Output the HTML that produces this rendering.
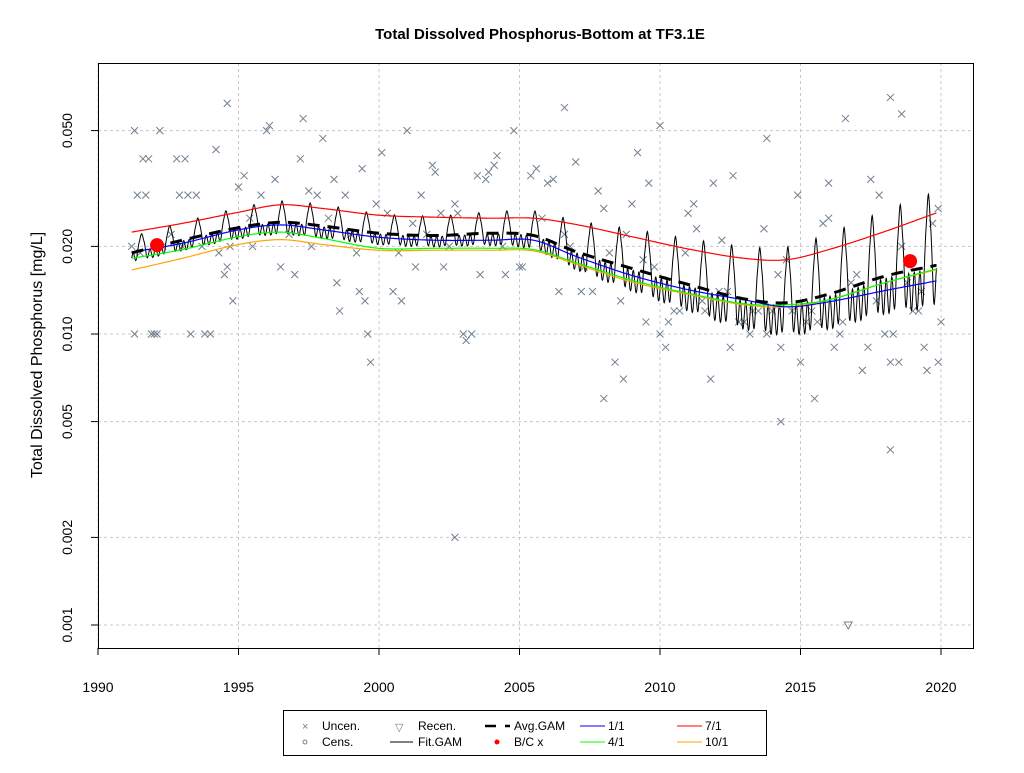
<!DOCTYPE html>
<html><head><meta charset="utf-8"><style>
body{margin:0;background:#fff;font-family:"Liberation Sans",sans-serif}
</style></head><body>
<svg id="c" width="1024" height="768" xmlns="http://www.w3.org/2000/svg" font-family="Liberation Sans, sans-serif">
<text x="540" y="39" text-anchor="middle" font-size="15" font-weight="bold">Total Dissolved Phosphorus-Bottom at TF3.1E</text>
<text transform="translate(42,355) rotate(-90)" text-anchor="middle" font-size="16">Total Dissolved Phosphorus [mg/L]</text>
<g id="grid"></g><g id="axes"></g><g id="pts"></g><g id="lines"></g>
<g font-size="12">
<rect x="283.5" y="710.5" width="483" height="45" fill="#fff" stroke="#000"/>
<text x="302" y="730" fill="#708090" font-size="11">×</text><text x="322" y="730">Uncen.</text>
<circle cx="305" cy="742" r="2" fill="none" stroke="#708090"/><text x="322" y="746">Cens.</text>
<text x="395" y="731" fill="#708090" font-size="11">▽</text><text x="418" y="730">Recen.</text>
<line x1="390" y1="742" x2="413" y2="742" stroke="#000"/><text x="418" y="746">Fit.GAM</text>
<line x1="485" y1="726" x2="496" y2="726" stroke="#000" stroke-width="2.5"/><line x1="505" y1="726" x2="510" y2="726" stroke="#000" stroke-width="2.5"/><text x="514" y="730">Avg.GAM</text>
<circle cx="497" cy="742" r="2.5" fill="red"/><text x="514" y="746">B/C x</text>
<line x1="580" y1="726" x2="605" y2="726" stroke="blue"/><text x="608" y="730">1/1</text>
<line x1="580" y1="742" x2="605" y2="742" stroke="#0f0"/><text x="608" y="746">4/1</text>
<line x1="677" y1="726" x2="702" y2="726" stroke="red"/><text x="705" y="730">7/1</text>
<line x1="677" y1="742" x2="702" y2="742" stroke="orange"/><text x="705" y="746">10/1</text>
</g>
</svg>
<script>
const xTicks=[1990,1995,2000,2005,2010,2015,2020];
const yTicks=[0.001,0.002,0.005,0.010,0.020,0.050];
const yTickLabels=["0.001","0.002","0.005","0.010","0.020","0.050"];
const knotYears=[1991.2,1993,1995,1996.5,1998,2000,2002,2004,2005.5,2007,2009,2011,2013,2014.5,2016,2018,2019.8];
const avgGam=[0.019,0.021,0.0232,0.0242,0.0235,0.0222,0.0218,0.0222,0.0218,0.0192,0.0168,0.0148,0.0132,0.0128,0.0137,0.0158,0.0172];
const line11=[0.0191,0.0205,0.0228,0.0237,0.0228,0.0215,0.021,0.021,0.021,0.0185,0.0159,0.0142,0.0131,0.0124,0.0129,0.0141,0.0152];
const line41=[0.0182,0.0195,0.0216,0.0224,0.0213,0.0197,0.0197,0.0197,0.0195,0.0176,0.0153,0.0138,0.0127,0.0126,0.0131,0.0150,0.0167];
const line71=[0.0224,0.024,0.0262,0.0278,0.027,0.0256,0.0252,0.025,0.025,0.0238,0.0216,0.0196,0.0182,0.0180,0.0195,0.0225,0.026];
const line101=[0.0166,0.0182,0.0203,0.0211,0.0203,0.0194,0.0194,0.0194,0.0193,0.0174,0.0151,0.0137,0.0126,0.0124,0.0131,0.0150,0.0166];
const seasonalAmp=[0.10,0.11,0.12,0.13,0.13,0.12,0.12,0.13,0.15,0.19,0.24,0.28,0.32,0.34,0.37,0.40,0.45];
const bcYears=[1992.1,2018.9];
const bcVals=[0.0202,0.0178];
const ptYears=[1991.2,1991.3,1991.3,1991.4,1991.5,1991.6,1991.7,1991.8,1991.9,1992.0,1992.1,1992.2,1992.3,1992.6,1992.8,1992.9,1993.0,1993.1,1993.2,1993.3,1993.5,1993.7,1993.8,1994.0,1994.2,1994.3,1994.5,1994.6,1994.7,1994.8,1995.0,1995.2,1995.4,1995.5,1995.8,1996.0,1996.1,1996.3,1996.5,1996.8,1997.0,1997.2,1997.3,1997.5,1997.6,1997.8,1998.0,1998.2,1998.4,1998.5,1998.6,1998.8,1999.0,1999.2,1999.3,1999.4,1999.5,1999.6,1999.7,1999.9,2000.1,2000.3,2000.5,2000.7,2000.8,2001.0,2001.2,2001.3,2001.5,2001.7,2001.9,2002.0,2002.2,2002.3,2002.5,2002.7,2002.8,2003.0,2003.1,2003.3,2003.5,2003.6,2003.8,2003.9,2004.1,2004.2,2004.4,2004.5,2002.7,2004.8,2005.0,2005.1,2005.4,2005.6,2005.8,2006.0,2006.2,2006.4,2006.6,2006.8,2007.0,2007.2,2007.3,2007.6,2007.8,2008.0,2008.2,2008.4,2008.6,2008.8,2009.0,2009.2,2009.4,2009.6,2009.8,2010.0,2010.2,2010.3,2010.5,2010.7,2010.9,2011.0,2011.2,2011.3,2011.5,2011.6,2011.8,2011.9,2012.1,2012.2,2012.4,2012.6,2012.8,2013.0,2013.2,2013.3,2013.5,2013.7,2013.8,2014.0,2014.2,2014.3,2014.5,2014.7,2014.9,2015.0,2015.2,2015.4,2015.6,2015.8,2016.0,2016.2,2016.4,2016.5,2016.8,2017.0,2017.2,2017.4,2017.5,2017.7,2018.0,2018.2,2018.3,2018.5,2018.6,2018.8,2019.0,2019.2,2019.3,2019.5,2019.7,2019.9,2020.0,2006.6,2008.0,2014.3,2015.5,2018.2,2016.6,2018.2,2018.6,2010.0,2013.8,1994.6,2008.7,2009.5,2012.5,2016.0,2017.8,2019.9,2019.4];
const ptVals=[0.020,0.050,0.010,0.030,0.019,0.040,0.030,0.040,0.010,0.010,0.010,0.050,0.020,0.022,0.040,0.030,0.020,0.040,0.030,0.010,0.030,0.020,0.010,0.010,0.043,0.019,0.016,0.017,0.020,0.013,0.032,0.035,0.025,0.020,0.030,0.050,0.052,0.034,0.017,0.022,0.016,0.040,0.055,0.031,0.020,0.030,0.047,0.025,0.034,0.015,0.012,0.030,0.022,0.019,0.014,0.037,0.013,0.010,0.008,0.028,0.042,0.026,0.014,0.019,0.013,0.050,0.024,0.017,0.030,0.022,0.038,0.036,0.026,0.017,0.020,0.028,0.026,0.010,0.0095,0.010,0.035,0.016,0.034,0.036,0.038,0.041,0.020,0.016,0.0020,0.050,0.017,0.017,0.035,0.037,0.025,0.033,0.034,0.014,0.022,0.020,0.039,0.014,0.017,0.014,0.031,0.027,0.019,0.008,0.013,0.022,0.028,0.042,0.018,0.033,0.017,0.010,0.009,0.011,0.012,0.012,0.019,0.026,0.028,0.023,0.013,0.012,0.007,0.033,0.014,0.021,0.014,0.035,0.011,0.011,0.010,0.012,0.012,0.023,0.010,0.012,0.016,0.009,0.018,0.012,0.030,0.008,0.011,0.012,0.011,0.024,0.033,0.009,0.010,0.011,0.015,0.016,0.0075,0.009,0.034,0.013,0.010,0.008,0.010,0.008,0.020,0.015,0.012,0.012,0.014,0.0075,0.024,0.027,0.011,0.060,0.006,0.005,0.006,0.004,0.055,0.065,0.057,0.052,0.047,0.062,0.007,0.011,0.009,0.025,0.030,0.008,0.009];
const recYears=[2016.7];
const recVals=[0.001];

const NS="http://www.w3.org/2000/svg";
const X0=98,X1=973,Y0=63,Y1=648;
function sx(t){return 98+(t-1990)*28.1;}
function sy(v){return 334-Math.log10(v/0.01)*291;}
function mk(tag,attrs,parent){const e=document.createElementNS(NS,tag);for(const k in attrs)e.setAttribute(k,attrs[k]);document.getElementById(parent).appendChild(e);return e;}
function interp(arr,t){
  const n=knotYears.length;
  if(t<=knotYears[0])return arr[0];
  if(t>=knotYears[n-1])return arr[n-1];
  const L=arr.map(Math.log);
  let i=0;while(t>knotYears[i+1])i++;
  const h=knotYears[i+1]-knotYears[i],f=(t-knotYears[i])/h;
  const m=j=>{const a=Math.max(0,j-1),b=Math.min(n-1,j+1);return (L[b]-L[a])/(knotYears[b]-knotYears[a])*h;};
  const f2=f*f,f3=f2*f;
  const v=(2*f3-3*f2+1)*L[i]+(f3-2*f2+f)*m(i)+(-2*f3+3*f2)*L[i+1]+(f3-f2)*m(i+1);
  return Math.exp(v);
}
xTicks.forEach(t=>{
  const g=mk('line',{x1:sx(t),x2:sx(t),y1:Y0,y2:Y1,stroke:'#c8c8c8','stroke-dasharray':'3,3'},'grid');
  
  
  const tk=mk('line',{x1:sx(t),x2:sx(t),y1:Y1,y2:Y1+7,stroke:'#000'},'axes');
  
  
  const l=mk('text',{x:sx(t),y:692,'text-anchor':'middle','font-size':'14'},'axes');l.textContent=t;
  
  
});
yTicks.forEach((v,i)=>{
  const g=mk('line',{x1:X0,x2:X1,y1:sy(v),y2:sy(v),stroke:'#c8c8c8','stroke-dasharray':'3,3'},'grid');
  
  
  const tk=mk('line',{x1:X0-7,x2:X0,y1:sy(v),y2:sy(v),stroke:'#000'},'axes');
  
  
  const l=mk('text',{transform:`translate(72,${sy(v)}) rotate(-90)`,'text-anchor':'middle','font-size':'14'},'axes');l.textContent=yTickLabels[i];
  
  
});
const box=mk('rect',{x:X0+.5,y:Y0+.5,width:X1-X0,height:Y1-Y0,fill:'none',stroke:'#000'},'axes');


ptYears.forEach((t,i)=>{
  const x=sx(t),y=sy(ptVals[i]);
  const p=mk('path',{d:`M${x-3.5},${y-3.5}L${x+3.5},${y+3.5}M${x-3.5},${y+3.5}L${x+3.5},${y-3.5}`,stroke:'#708090','stroke-width':'1'},'pts');
  
  
});
recYears.forEach((t,i)=>{
  const x=sx(t),y=sy(recVals[i]);
  const p=mk('path',{d:`M${x-4},${y-3}L${x+4},${y-3}L${x},${y+4}Z`,stroke:'#708090',fill:'none'},'pts');
  
  
});
function curve(arr,color,w,dash,name){
  let d='';for(let t=1991.2;t<=2019.85;t+=0.02){d+=(d?'L':'M')+sx(t).toFixed(1)+','+sy(interp(arr,t)).toFixed(1);}
  const p=mk('path',{d:d,fill:'none',stroke:color,'stroke-width':w},'lines');
  if(dash)p.setAttribute('stroke-dasharray',dash);
  
  
}
(function(){
  let d='';
  for(let t=1991.2;t<=2019.85;t+=0.01){
    const ph=(t-Math.floor(t));
    const dist=Math.min(Math.abs(ph-0.55),1-Math.abs(ph-0.55));
    const peak=Math.exp(-dist*dist/0.012);
    const a=interp(seasonalAmp,t);
    const base=interp(avgGam,t);
    const wig=0.35*Math.sin(ph*2*Math.PI*5)*(1-peak);
    const v=base*Math.exp(a*(1.7*peak-0.4+wig));
    d+=(d?'L':'M')+sx(t).toFixed(1)+','+sy(v).toFixed(1);
  }
  const p=mk('path',{d:d,fill:'none',stroke:'#000','stroke-width':1},'lines');
  
  
})();
curve(line101,'orange',1.2,null,'line-10-1');
curve(line41,'#0f0',1.2,null,'line-4-1');
curve(line11,'blue',1.2,null,'line-1-1');
curve(line71,'red',1.2,null,'line-7-1');
curve(avgGam,'#000',3,'12,8','avg-gam-line');
bcYears.forEach((t,i)=>{
  const c=mk('circle',{cx:sx(t),cy:sy(bcVals[i]),r:7,fill:'red'},'lines');
  
  
});
</script>
</body></html>
